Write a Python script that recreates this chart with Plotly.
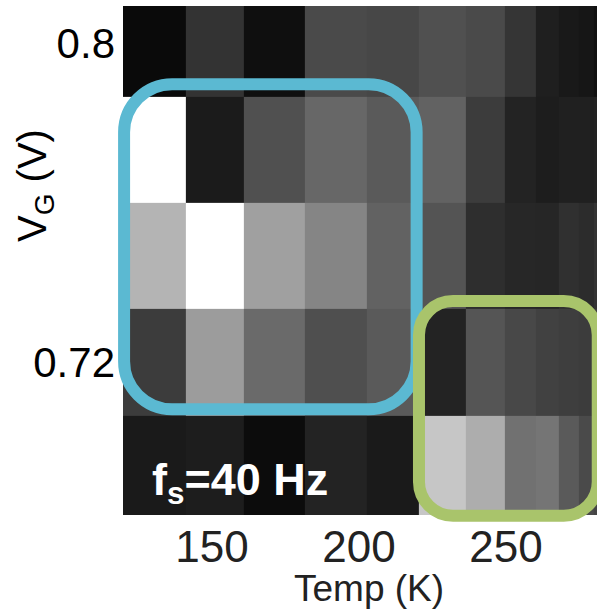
import plotly.graph_objects as go

# Temperature bin edges (K) for each measured column, and gate-voltage rows (V)
temp_edges = [119.0, 141.0, 161.0, 181.5, 202.5, 220.5, 236.5, 249.7, 260.0, 268.1, 274.7, 279.8, 284.0]
vg = [0.6933, 0.7200, 0.7467, 0.7733, 0.8000]

# Normalised noise intensity (0 = black, 255 = white), one list per gate voltage
z_0693 = [26, 29, 12, 35, 26, 198, 173, 113, 117, 90, 74, 68]
z_0720 = [60, 156, 106, 79, 90, 35, 85, 72, 65, 62, 60, 60]
z_0747 = [180, 255, 160, 133, 98, 84, 46, 39, 38, 48, 44, 51]
z_0773 = [255, 27, 80, 103, 90, 98, 60, 35, 29, 32, 32, 34]
z_0800 = [10, 51, 15, 74, 71, 80, 74, 53, 31, 25, 22, 17]
z = [z_0693, z_0720, z_0747, z_0773, z_0800]

x_ticks = [150, 200, 250]
y_ticks = [0.72, 0.8]
y_tick_text = ["0.72", "0.8"]

# Highlighted regions: (T_min, T_max, V_min, V_max)
blue_region = (120.1, 219.6, 0.7083, 0.7897)
green_region = (220.4, 281.2, 0.6816, 0.7354)

X_RANGE = [119.73, 280.95]
Y_RANGE = [0.6818, 0.8093]

W, H = 597, 615
M_L, M_R, M_T, M_B = 123, 0, 6, 100
PLOT_W = W - M_L - M_R
PLOT_H = H - M_T - M_B

FONT = "Liberation Sans, Arial, Helvetica, sans-serif"


def px(t):
    return (t - X_RANGE[0]) / (X_RANGE[1] - X_RANGE[0])


def py(v):
    return (v - Y_RANGE[0]) / (Y_RANGE[1] - Y_RANGE[0])


def rounded_rect(region, radius):
    x0, x1 = px(region[0]), px(region[1])
    y0, y1 = py(region[2]), py(region[3])
    rx, ry = radius / PLOT_W, radius / PLOT_H
    k = 1 - 0.5523
    return (
        f"M {x0 + rx},{y1} L {x1 - rx},{y1} "
        f"C {x1 - rx * k},{y1} {x1},{y1 - ry * k} {x1},{y1 - ry} "
        f"L {x1},{y0 + ry} "
        f"C {x1},{y0 + ry * k} {x1 - rx * k},{y0} {x1 - rx},{y0} "
        f"L {x0 + rx},{y0} "
        f"C {x0 + rx * k},{y0} {x0},{y0 + ry * k} {x0},{y0 + ry} "
        f"L {x0},{y1 - ry} "
        f"C {x0},{y1 - ry * k} {x0 + rx * k},{y1} {x0 + rx},{y1} Z"
    )


fig = go.Figure(
    go.Heatmap(
        x=temp_edges,
        y=vg,
        z=z,
        zmin=0,
        zmax=255,
        colorscale=[[0, "#000000"], [1, "#ffffff"]],
        showscale=False,
    )
)

fig.add_shape(
    type="path",
    xref="paper",
    yref="paper",
    path=rounded_rect(blue_region, 48),
    line=dict(color="#5bb9d2", width=12),
    layer="above",
)
fig.add_shape(
    type="path",
    xref="paper",
    yref="paper",
    path=rounded_rect(green_region, 34),
    line=dict(color="#a9c46b", width=12),
    layer="above",
)

fig.add_annotation(
    text="<b>f<sub>s</sub>=40 Hz</b>",
    xref="paper",
    yref="paper",
    x=(150 - M_L) / PLOT_W,
    y=(515 - 482) / PLOT_H,
    xanchor="left",
    yanchor="middle",
    showarrow=False,
    font=dict(family=FONT, size=45, color="#ffffff"),
)

fig.add_annotation(
    text="V<sub>G</sub> (V)",
    xref="paper",
    yref="paper",
    x=(35 - M_L) / PLOT_W,
    y=(515 - 186) / PLOT_H,
    xanchor="center",
    yanchor="middle",
    textangle=-90,
    showarrow=False,
    font=dict(family=FONT, size=40, color="#000000"),
)

fig.add_annotation(
    text="Temp (K)",
    xref="paper",
    yref="paper",
    x=(369 - M_L) / PLOT_W,
    y=(515 - 588) / PLOT_H,
    xanchor="center",
    yanchor="middle",
    showarrow=False,
    font=dict(family=FONT, size=37, color="#222222"),
)

fig.update_xaxes(
    range=X_RANGE,
    tickvals=x_ticks,
    ticks="",
    showgrid=False,
    zeroline=False,
    showline=False,
    tickfont=dict(family=FONT, size=44, color="#222222"),
    ticklabelstandoff=2,
)
fig.update_yaxes(
    range=Y_RANGE,
    tickvals=y_ticks,
    ticktext=y_tick_text,
    ticks="",
    showgrid=False,
    zeroline=False,
    showline=False,
    tickfont=dict(family=FONT, size=42, color="#000000"),
    ticklabelstandoff=7,
)

fig.update_layout(
    width=W,
    height=H,
    margin=dict(l=M_L, r=M_R, t=M_T, b=M_B, pad=0),
    paper_bgcolor="#ffffff",
    plot_bgcolor="#ffffff",
    showlegend=False,
)

fig.write_html("out.html")
